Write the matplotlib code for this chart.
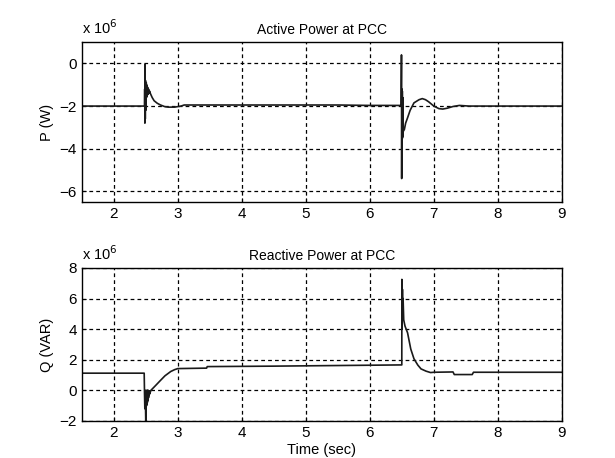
import numpy as np
import matplotlib
matplotlib.use('Agg')
import matplotlib.pyplot as plt

plt.rcParams['font.family'] = ['Liberation Sans', 'DejaVu Sans']
plt.rcParams['font.size'] = 10

# Active power at PCC (values in units of 1e6 W)
p_time = [1.5, 2.48, 2.483, 2.486, 2.489, 2.492, 2.495, 2.498, 2.501, 2.504,
          2.507, 2.51, 2.513, 2.516, 2.519, 2.522, 2.525, 2.528, 2.531, 2.534,
          2.537, 2.54, 2.543, 2.546, 2.55, 2.555, 2.56, 2.57,
          2.6, 2.63, 2.68, 2.73, 2.8, 2.85, 2.95, 3.05, 3.1, 5.5, 6.0,
          6.49, 6.495, 6.498, 6.502, 6.505, 6.508, 6.511, 6.514, 6.517, 6.52,
          6.54, 6.56, 6.59, 6.63, 6.69, 6.77, 6.82, 6.87, 6.92, 7.0, 7.08,
          7.14, 7.21, 7.3, 7.4, 7.55, 9.0]
p_value = [-2.0, -2.0, -1.2, -2.8, -0.05, -2.6, -0.8, -2.2, -1.0, -1.8,
           -0.9, -1.6, -1.0, -1.55, -1.05, -1.5, -1.1, -1.45, -1.15, -1.45,
           -1.2, -1.4, -1.2, -1.4, -1.3, -1.35, -1.3, -1.4,
           -1.6, -1.75, -1.87, -1.95, -2.03, -2.05, -2.05, -2.0, -1.95, -1.95, -1.97,
           -1.97, 0.4, -5.4, -1.2, -3.6, -1.3, -3.5, -1.6, -3.4, -3.2,
           -3.1, -2.8, -2.55, -2.2, -1.85, -1.7, -1.65, -1.7, -1.8, -2.0, -2.12,
           -2.14, -2.1, -2.02, -1.97, -2.0, -2.0]

# Reactive power at PCC (values in units of 1e6 VAR)
q_time = [1.5, 2.47, 2.475, 2.48, 2.485, 2.49, 2.495, 2.5, 2.503, 2.506,
          2.509, 2.512, 2.515, 2.518, 2.521, 2.524, 2.527, 2.53, 2.533, 2.536,
          2.539, 2.542, 2.545, 2.55, 2.555, 2.56, 2.58, 2.65,
          2.73, 2.8, 2.89, 2.95, 3.0, 3.45, 3.46, 4.5, 5.5, 6.5,
          6.501, 6.505, 6.51, 6.515, 6.52, 6.53, 6.55, 6.59, 6.64, 6.69,
          6.75, 6.8, 6.88, 6.95, 7.0, 7.3, 7.32, 7.6, 7.62, 9.0]
q_value = [1.12, 1.12, 1.12, -0.2, -1.2, 0.0, -0.9, -2.2, -0.3, -1.1,
           -0.1, -1.0, 0.0, -0.9, -0.05, -0.8, 0.0, -0.7, -0.05, -0.6,
           0.0, -0.5, -0.05, -0.35, -0.05, -0.25, 0.0, 0.3,
           0.65, 0.95, 1.23, 1.35, 1.42, 1.45, 1.55, 1.58, 1.62, 1.66,
           7.25, 4.0, 6.6, 4.6, 6.0, 4.6, 4.2, 3.76, 2.7, 2.06,
           1.65, 1.4, 1.25, 1.16, 1.18, 1.2, 1.03, 1.03, 1.18, 1.18]

x_ticks = [2, 3, 4, 5, 6, 7, 8, 9]
p_ticks = [-6, -4, -2, 0]
q_ticks = [-2, 0, 2, 4, 6, 8]


def style_axes(ax, yticks, ylim, ylabel, title):
    ax.set_xlim(1.5, 9)
    ax.set_ylim(*ylim)
    ax.set_xticks(x_ticks)
    ax.set_yticks(yticks)
    ax.grid(True, color='k', linestyle=(0, (3, 2.5)), linewidth=0.9)
    ax.tick_params(direction='in', length=3, labelsize=11)
    for s in ax.spines.values():
        s.set_linewidth(1.0)
    ax.set_ylabel(ylabel, fontsize=10.5)
    ax.set_title(title, fontsize=10, pad=6)
    ax.text(0, 1.03, r'x 10$^6$', transform=ax.transAxes,
            ha='left', va='bottom', fontsize=10.5)


fig = plt.figure(figsize=(6.15, 4.58), dpi=100)
ax1 = fig.add_axes([0.133, 0.559, 0.7805, 0.349])
ax2 = fig.add_axes([0.133, 0.081, 0.7805, 0.334])

ax1.plot(p_time, p_value, color='#1a1a1a', linewidth=1.2)
style_axes(ax1, p_ticks, (-6.5, 1), 'P (W)', 'Active Power at PCC')

ax2.plot(q_time, q_value, color='#1a1a1a', linewidth=1.2)
style_axes(ax2, q_ticks, (-2, 8), 'Q (VAR)', 'Reactive Power at PCC')
ax2.set_xlabel('Time (sec)', fontsize=10.5, labelpad=2)

fig.savefig('out.png', dpi=100)
